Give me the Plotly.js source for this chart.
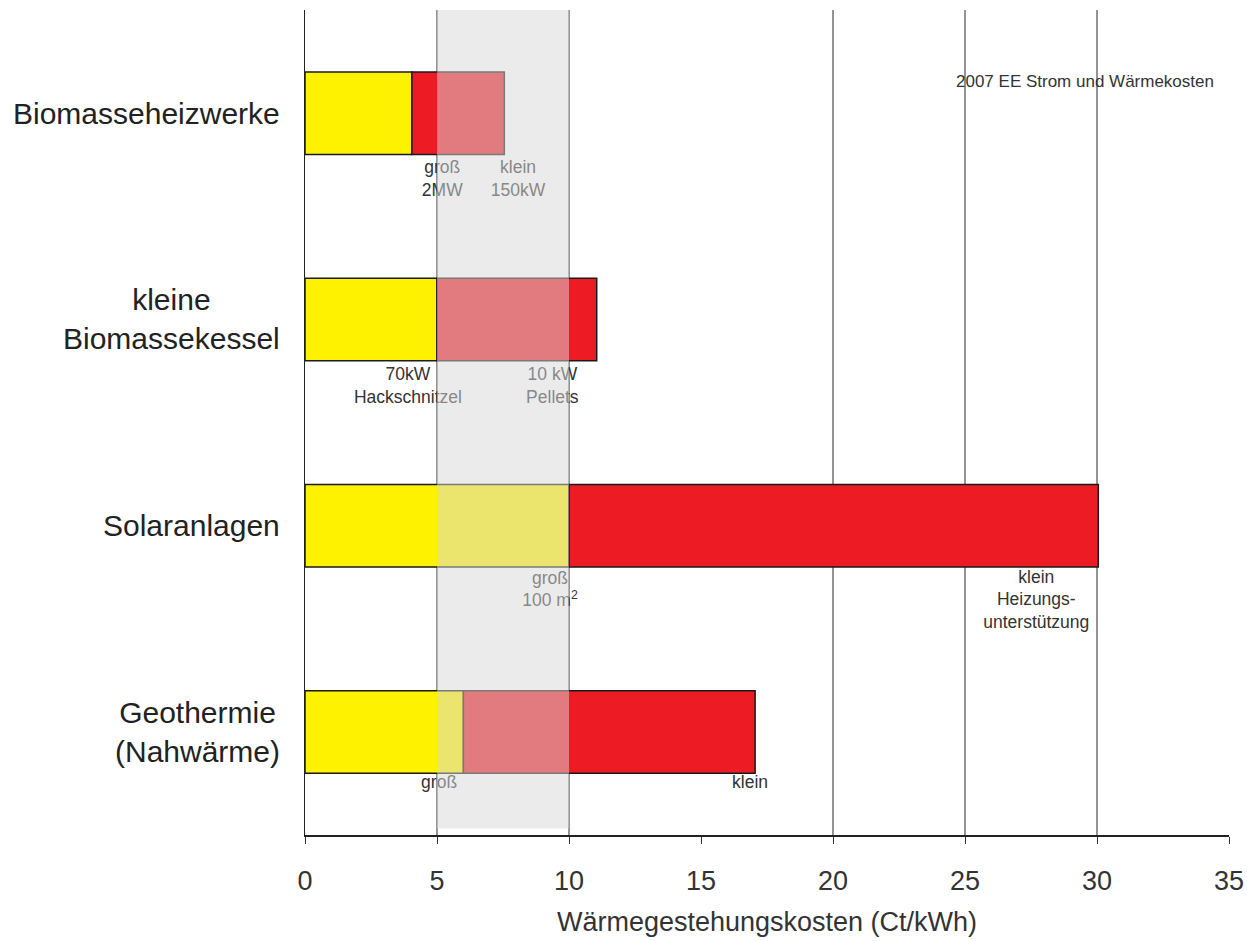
<!DOCTYPE html>
<html>
<head>
<meta charset="utf-8">
<script src="https://cdn.plot.ly/plotly-3.0.1.min.js"></script>
<style>html,body{margin:0;padding:0;background:#fff;}#chart{width:1247px;height:941px;}</style>
</head>
<body>
<div id="chart"></div>
<script>
// ---- data ----
const categories = ["Biomasseheizwerke", "kleine<br>Biomassekessel", "Solaranlagen", "Geothermie<br>(Nahwärme)"];
const lowCost  = [4.05, 5.0, 10.0, 6.0];    // large plant (groß) cost, Ct/kWh
const highCost = [7.55, 11.05, 30.05, 17.05]; // small plant (klein) cost, Ct/kWh
const bandRange = [5, 10];                 // grey reference band
const gridValues = [5, 10, 20, 25, 30];
const xTicks = [0, 5, 10, 15, 20, 25, 30, 35];

const labelText = ["groß<br>2MW", "klein<br>150kW", "70kW<br>Hackschnitzel", "10 kW<br>Pellets",
                   "groß<br>100 m<sup>2</sup>", "klein<br>Heizungs-<br>unterstützung", "groß", "klein"];
const labelX = [5.2, 8.07, 3.9, 9.37, 9.28, 27.7, 5.08, 16.86];
const labelY = [0.325, 0.325, 1.33, 1.33, 2.315, 2.365, 3.25, 3.25];

const idx = categories.map((c, i) => i);
const outline = {color: "#1a1a1a", width: 1.5};

const traces = [
  {type: "bar", orientation: "h", y: idx, x: lowCost, base: 0, width: 0.4,
   marker: {color: "#FFF200", line: outline}, hoverinfo: "x"},
  {type: "bar", orientation: "h", y: idx, x: highCost.map((h, i) => h - lowCost[i]), base: lowCost, width: 0.4,
   marker: {color: "#ED1C24", line: outline}, hoverinfo: "x"},
  {type: "scatter", mode: "text", x: labelX, y: labelY, text: labelText,
   textposition: "middle center", textfont: {family: "Liberation Sans, Arial, sans-serif", size: 17.5, color: "#333"},
   hoverinfo: "skip", cliponaxis: false}
];

const shapes = gridValues.map(v => ({type: "line", xref: "x", yref: "paper", x0: v, x1: v, y0: 0, y1: 1,
  line: {color: "#2a2a2a", width: 1}, layer: "below"}));
shapes.push({type: "rect", xref: "x", yref: "paper", x0: bandRange[0], x1: bandRange[1], y0: 0.008, y1: 1,
  fillcolor: "rgba(216,216,216,0.51)", line: {width: 0}, layer: "above"});

const annotations = categories.map((c, i) => ({
  xref: "paper", yref: "y", x: 0, y: i, xshift: -23, xanchor: "right", yanchor: "middle",
  text: c, showarrow: false, align: "center",
  font: {family: "Liberation Sans, Arial, sans-serif", size: 30, color: "#222"}
}));
annotations.push({xref: "paper", yref: "paper", x: 0.986, y: 0.913, xanchor: "right", yanchor: "middle",
  text: "2007 EE Strom und Wärmekosten", showarrow: false,
  font: {family: "Liberation Sans, Arial, sans-serif", size: 17, color: "#333"}});

const layout = {
  width: 1247, height: 941,
  margin: {l: 305, r: 18, t: 10, b: 106},
  paper_bgcolor: "#fff", plot_bgcolor: "#fff",
  showlegend: false,
  barmode: "overlay",
  font: {family: "Liberation Sans, Arial, sans-serif", color: "#333"},
  xaxis: {
    range: [0, 35], tickvals: xTicks, ticks: "outside", ticklen: 7, tickcolor: "#333",
    showgrid: false, zeroline: false, showline: true, linecolor: "#222", linewidth: 1.5,
    tickfont: {size: 27, color: "#333"}, ticklabelstandoff: 14, automargin: false,
    title: {text: "Wärmegestehungskosten (Ct/kWh)", font: {size: 27, color: "#333"}, standoff: 17}
  },
  yaxis: {
    range: [3.5, -0.5], showticklabels: false, ticks: "", showgrid: false, zeroline: false,
    showline: true, linecolor: "#222", linewidth: 1.5, automargin: false
  },
  shapes: shapes,
  annotations: annotations
};

Plotly.newPlot("chart", traces, layout, {displayModeBar: false, staticPlot: true});
</script>
</body>
</html>
